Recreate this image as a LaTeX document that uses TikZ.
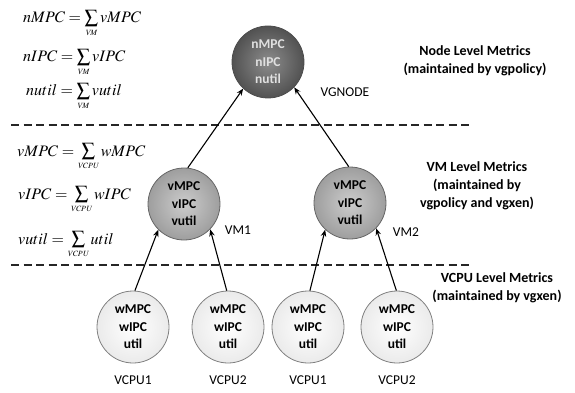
\documentclass[tikz,border=0pt]{standalone}
\usepackage{mathptmx}
\usepackage[no-math]{fontspec}
\setmainfont{Carlito}
\usetikzlibrary{arrows.meta}
\newcommand{\msum}[1]{\mathop{\mbox{\fontsize{19}{19}\selectfont$\textstyle\sum$}}\limits_{\mbox{\fontsize{8}{8}\selectfont$\mathit{#1}$}}}
\begin{document}
\begin{tikzpicture}[x=1pt,y=-1pt,
  metric/.style={circle,minimum size=72pt,inner sep=0pt,align=center,
    font=\fontsize{13.5}{17.5}\selectfont\bfseries,line width=0.8pt},
  topnode/.style={metric,draw=black!70,inner color=black!45,outer color=black!68,text=black!12},
  vmnode/.style={metric,draw=black!60,inner color=black!20,outer color=black!38},
  cpunode/.style={metric,draw=black!50,inner color=white,outer color=black!8},
  lbl/.style={font=\fontsize{13.5}{16}\selectfont},
  level/.style={font=\fontsize{14}{18}\selectfont\bfseries,align=center},
  eq/.style={anchor=base west,font=\fontsize{16}{18}\selectfont,inner sep=0pt},
  sep/.style={line width=1.8pt,black!85,dash pattern=on 8pt off 4.5pt},
  link/.style={line width=1.1pt,-{Stealth[length=7pt,width=5.5pt]}}]
\useasboundingbox (0,0) rectangle (575,393);

% separators
\coordinate (s1a) at (11,125); \coordinate (s1b) at (470,125);
\coordinate (s2a) at (11,265); \coordinate (s2b) at (470,265);
\draw[sep] (s1a) -- (s1b);
\draw[sep] (s2a) -- (s2b);

% nodes
\node[topnode] (vg) at (268,62) {nMPC\\nIPC\\nutil};
\node[vmnode] (vm1) at (184,204) {vMPC\\vIPC\\vutil};
\node[vmnode] (vm2) at (350,203) {vMPC\\vIPC\\vutil};
\node[cpunode] (c11) at (133,327) {wMPC\\wIPC\\util};
\node[cpunode] (c12) at (228,327) {wMPC\\wIPC\\util};
\node[cpunode] (c21) at (308,327) {wMPC\\wIPC\\util};
\node[cpunode] (c22) at (397,327) {wMPC\\wIPC\\util};

% labels
\node[lbl] (lvg) at (345,92) {VGNODE};
\node[lbl] (lvm1) at (238,230) {VM1};
\node[lbl] (lvm2) at (406,232) {VM2};
\node[lbl] (l11) at (133,380) {VCPU1};
\node[lbl] (l12) at (228,380) {VCPU2};
\node[lbl] (l21) at (308,380) {VCPU1};
\node[lbl] (l22) at (397,380) {VCPU2};

% connectors
\draw[link] (vm1.84) -- (vg.227);
\draw[link] (vm2.92) -- (vg.316);
\draw[link] (c11.87) -- (vm1.225);
\draw[link] (c12.92) -- (vm1.316);
\draw[link] (c21.87) -- (vm2.227);
\draw[link] (c22.91) -- (vm2.316);

% level texts
\node[level] (t1) at (475,61) {Node Level Metrics\\(maintained by vgpolicy)};
\node[level] (t2) at (477,186) {VM Level Metrics\\(maintained by\\vgpolicy and vgxen)};
\node[level] (t3) at (497,288) {VCPU Level Metrics\\(maintained by vgxen)};

% formulas
\node[eq] (e1) at (23,23) {$nMPC=\msum{VM} vMPC$};
\node[eq] (e2) at (23,62) {$nIPC=\msum{VM} vIPC$};
\node[eq] (e3) at (26,96) {$nutil=\msum{VM} vutil$};
\node[eq] (e4) at (17,156) {$vMPC=\msum{VCPU} wMPC$};
\node[eq] (e5) at (18,199) {$vIPC=\msum{VCPU} wIPC$};
\node[eq] (e6) at (18,244) {$vutil=\msum{VCPU} util$};
\end{tikzpicture}
\end{document}
